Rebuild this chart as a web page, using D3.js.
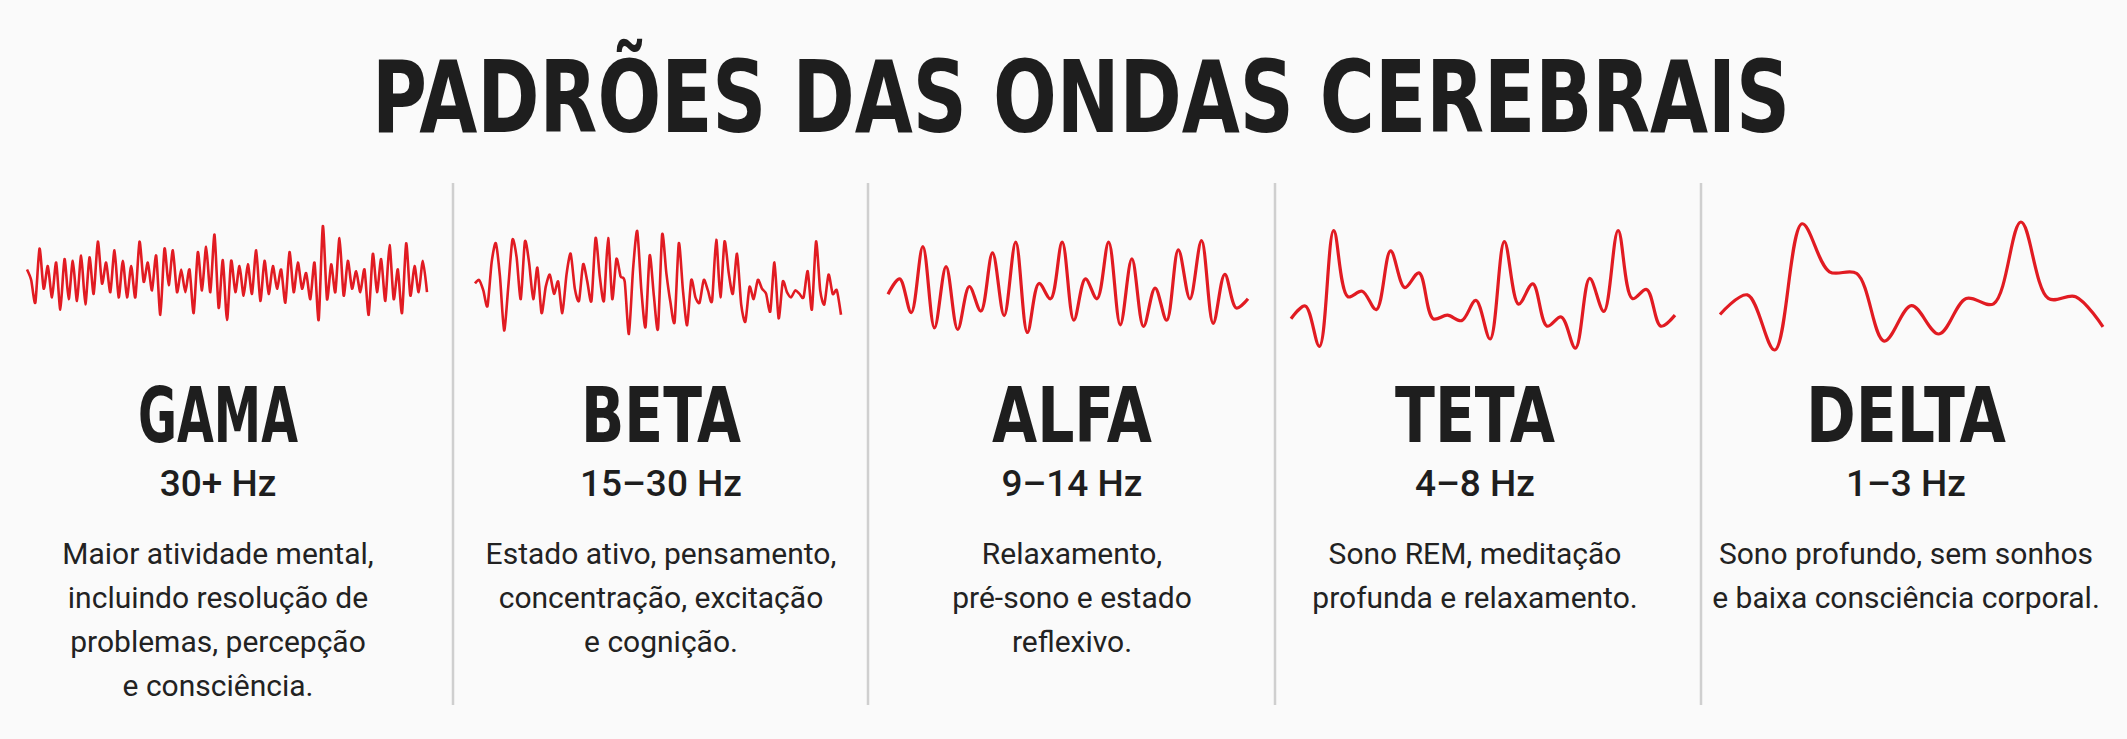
<!DOCTYPE html><html><head><meta charset="utf-8">
<script src="https://cdn.jsdelivr.net/npm/d3@7"></script>
<style>body{margin:0;background:#fafafa}</style></head><body><svg id="c" width="2127" height="739"></svg>
<script>
const title = "PADRÕES DAS ONDAS CEREBRAIS";
const bands = ["GAMA","BETA","ALFA","TETA","DELTA"];
const freqs = ["30+ Hz","15–30 Hz","9–14 Hz","4–8 Hz","1–3 Hz"];
const descs = [
 ["Maior atividade mental,","incluindo resolução de","problemas, percepção","e consciência."],
 ["Estado ativo, pensamento,","concentração, excitação","e cognição."],
 ["Relaxamento,","pré-sono e estado","reflexivo."],
 ["Sono REM, meditação","profunda e relaxamento."],
 ["Sono profundo, sem sonhos","e baixa consciência corporal."]];
// wave samples (vertical level, larger = lower)
const gama = [175,205,270,115,230,165,255,155,290,145,260,150,265,135,275,140,245,95,215,155,240,120,255,150,255,165,255,95,210,155,235,135,305,115,220,120,240,175,240,175,300,125,235,110,240,75,285,148,320,150,240,165,250,160,245,120,265,150,245,165,230,175,270,125,240,155,230,185,260,155,320,50,260,160,240,85,250,150,230,180,240,175,305,130,240,145,265,105,260,175,300,100,250,165,240,150,240];
const beta = [220,210,240,285,160,105,200,355,230,95,145,265,100,160,265,175,305,230,195,250,215,305,195,135,235,270,165,215,270,90,200,270,90,265,150,200,215,365,180,70,240,345,140,255,350,80,190,275,330,105,240,340,210,260,275,210,240,270,95,260,100,190,250,135,280,330,230,265,210,235,250,300,160,320,215,245,260,240,250,260,185,295,100,240,280,195,250,240,310];
const alfa = [250,200,310,95,360,160,365,225,305,115,320,80,375,215,265,80,335,200,265,80,350,135,355,230,335,105,265,75,345,185,295,265];
const teta = [300,265,375,60,240,225,275,115,215,175,300,290,305,250,355,90,260,205,320,295,380,190,280,60,245,220,320,290];
const delta = [310,255,410,55,190,195,385,285,365,265,280,50,265,260,345];
const waves = [gama,beta,alfa,teta,delta];
const waveRange = [[50,320],[70,365],[60,380],[50,385],[50,410]];

const svg = d3.select("#c");
svg.append("rect").attr("width",2127).attr("height",739).attr("fill","#fafafa");
svg.append("text").attr("x",1081).attr("y",132).attr("text-anchor","middle")
 .attr("font-family","'DejaVu Sans Condensed','DejaVu Sans'").attr("font-weight","bold")
 .attr("font-size",100).attr("fill","#1e1e1e").attr("textLength",1418).attr("lengthAdjust","spacingAndGlyphs").text(title);

const centers = [218,661,1072,1475,1906];
const boxes = [[27,427,226,320],[475,841,231,334],[888,1248,236,334],[1291,1675,227,350],[1720,2103,222,350]];
[453,868,1275,1701].forEach(x=>svg.append("line").attr("x1",x).attr("x2",x).attr("y1",183).attr("y2",705).attr("stroke","#cfcfcf").attr("stroke-width",2.5));

bands.forEach((b,i)=>{
  const w = waves[i], bx = boxes[i];
  const x = d3.scaleLinear().domain([0,w.length-1]).range([bx[0],bx[1]]);
  const y = d3.scaleLinear().domain(waveRange[i]).range([bx[2],bx[3]]);
  svg.append("path").attr("d",d3.line().x((d,j)=>x(j)).y(d=>y(d)).curve(i<2?d3.curveCardinal.tension(0.3):d3.curveCatmullRom)(w))
    .attr("fill","none").attr("stroke","#e11b22").attr("stroke-width",i<2?2.6:3.2).attr("stroke-linejoin","round");
  const cx = centers[i];
  svg.append("text").attr("x",cx).attr("y",442).attr("text-anchor","middle")
   .attr("font-family","'DejaVu Sans Condensed','DejaVu Sans'").attr("font-weight","bold").attr("font-size",76)
   .attr("fill","#1e1e1e").attr("textLength",b.length*40).attr("lengthAdjust","spacingAndGlyphs").text(b);
  svg.append("text").attr("x",cx).attr("y",496).attr("text-anchor","middle")
   .attr("font-family","Roboto,'Noto Sans',sans-serif").attr("font-weight",500).attr("font-size",37).attr("fill","#1e1e1e").text(freqs[i]);
  descs[i].forEach((l,k)=>svg.append("text").attr("x",cx).attr("y",564+k*44).attr("text-anchor","middle")
   .attr("font-family","Roboto,'Noto Sans',sans-serif").attr("font-size",30).attr("fill","#222").text(l));
});
</script></body></html>
